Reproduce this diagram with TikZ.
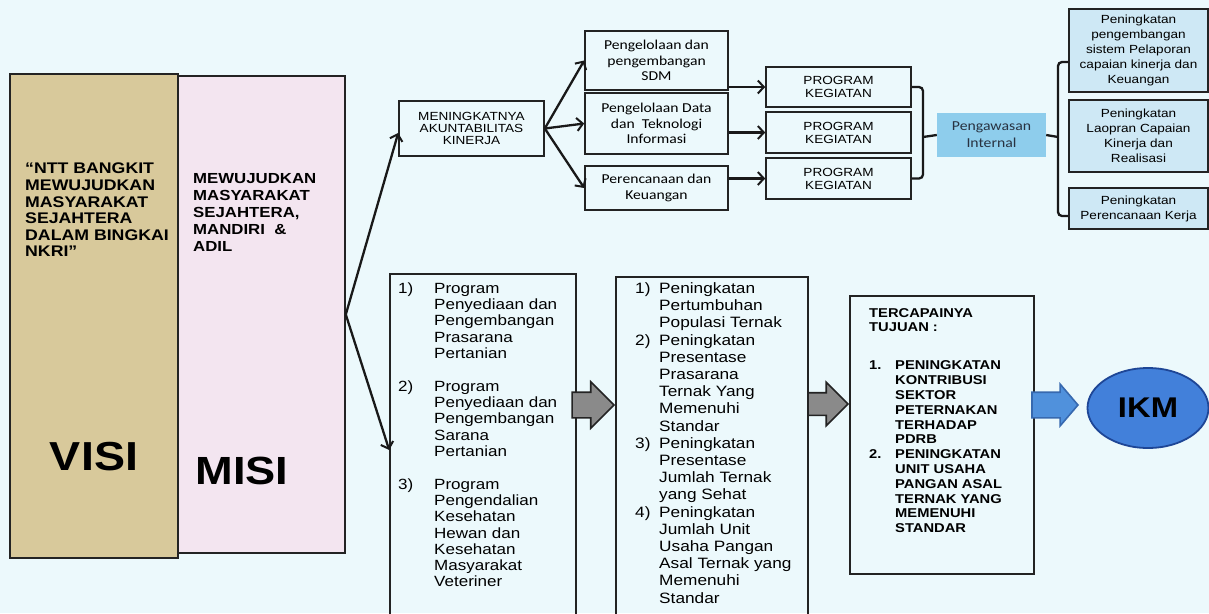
\documentclass[tikz,border=0pt]{standalone}
\usepackage{fontspec}
\setmainfont{Liberation Sans}[FakeStretch=1.15]
\newfontfamily\carl{Carlito}[FakeStretch=1.15]
\usetikzlibrary{arrows.meta,shapes.arrows,shapes.geometric}
\definecolor{bg}{RGB}{236,249,252}
\definecolor{visitan}{RGB}{216,201,155}
\definecolor{lpink}{RGB}{243,229,240}
\definecolor{pengblue}{RGB}{142,205,236}
\definecolor{rblue}{RGB}{206,232,245}
\definecolor{ikmblue}{RGB}{66,128,218}
\definecolor{ikmedge}{RGB}{30,70,150}
\definecolor{arrgray}{RGB}{138,138,138}
\definecolor{barrow}{RGB}{80,145,220}
\definecolor{barrowedge}{RGB}{55,105,175}
\definecolor{edge}{RGB}{35,35,35}
\definecolor{pengtext}{RGB}{40,50,65}
\newcommand{\myfs}[2]{\fontsize{#1}{#2}\selectfont}
\newcommand{\nmA}[1]{\makebox[36pt][l]{#1}}
\newcommand{\indA}{\hspace*{36pt}}
\newcommand{\nmB}[1]{\makebox[24pt][l]{#1}}
\newcommand{\indB}{\hspace*{24pt}}
\newcommand{\nmC}[1]{\makebox[26pt][l]{#1}}
\newcommand{\indC}{\hspace*{26pt}}
\begin{document}
\begin{tikzpicture}[x=1pt,y=-1pt,
  box/.style={draw=edge, line width=1.6pt, inner sep=0pt, align=center},
  txt/.style={anchor=north west, inner sep=0pt, align=left},
  conn/.style={draw=black!90, line width=2.3pt, -{Straight Barb[length=6pt,width=13pt,line width=2pt]}},
  brk/.style={draw=black!90, line width=2.3pt, rounded corners=4pt},
  blockarrow/.style={single arrow, draw=edge, fill=arrgray, line width=1.6pt, inner xsep=0pt, anchor=tip}
]
\fill[bg] (0,0) rectangle (1209,613);
\useasboundingbox (0,0) rectangle (1209,613);
\clip (0,0) rectangle (1209,613);

% VISI / MISI
\node[box, fill=visitan, minimum width=168pt, minimum height=484pt] (visi) at (94,316) {};
\node[box, fill=lpink, minimum width=167pt, minimum height=477pt] (misi) at (261.5,314.5) {};
\node[txt, font=\bfseries\myfs{15.4}{16.6}] (visitxt) at (25,163) {“NTT BANGKIT\\MEWUJUDKAN\\MASYARAKAT\\SEJAHTERA\\DALAM BINGKAI\\NKRI”};
\node[txt, font=\bfseries\myfs{14.6}{17}] (misitxt) at (193,173) {MEWUJUDKAN\\MASYARAKAT\\SEJAHTERA,\\MANDIRI\ \ \&\\ADIL};
\node[inner sep=0pt, font=\bfseries\myfs{40.5}{42}] (visiw) at (94,457) {VISI};
\node[inner sep=0pt, font=\bfseries\myfs{39.3}{42}] (misiw) at (242,471) {MISI};

% upper chain
\node[box, minimum width=145pt, minimum height=55pt, font=\myfs{11.8}{12}] (mening) at (471.5,128.5) {MENINGKATNYA\\AKUNTABILITAS\\KINERJA};
\node[box, minimum width=143pt, minimum height=59pt, font=\carl\myfs{13.6}{15.5}] (sdm) at (656.5,60.5) {Pengelolaan dan\\pengembangan\\SDM};
\node[box, minimum width=143pt, minimum height=61pt, font=\carl\myfs{13.6}{15.5}] (data) at (656.5,123.5) {Pengelolaan Data\\dan\ \ Teknologi\\Informasi};
\node[box, minimum width=143pt, minimum height=44pt, font=\carl\myfs{13.6}{15.5}] (per) at (656.5,188) {Perencanaan dan\\Keuangan};
\node[box, minimum width=145pt, minimum height=40pt, font=\myfs{11.8}{13}] (p1) at (838.5,87) {PROGRAM\\KEGIATAN};
\node[box, minimum width=145pt, minimum height=41pt, font=\myfs{11.8}{13}] (p2) at (838.5,132.5) {PROGRAM\\KEGIATAN};
\node[box, minimum width=145pt, minimum height=41pt, font=\myfs{11.8}{13}] (p3) at (838.5,178.5) {PROGRAM\\KEGIATAN};
\node[fill=pengblue, inner sep=0pt, align=center, minimum width=109pt, minimum height=44pt, text=pengtext, font=\carl\myfs{13.7}{17}] (peng) at (991.5,135) {Pengawasan\\Internal};
\node[box, fill=rblue, minimum width=139pt, minimum height=83pt, font=\myfs{11.8}{15}] (r1) at (1138.5,50.5) {Peningkatan\\pengembangan\\sistem Pelaporan\\capaian kinerja dan\\Keuangan};
\node[box, fill=rblue, minimum width=139pt, minimum height=72pt, font=\myfs{11.8}{15}] (r2) at (1138.5,136) {Peningkatan\\Laopran Capaian\\Kinerja dan\\Realisasi};
\node[box, fill=rblue, minimum width=139pt, minimum height=41pt, font=\myfs{11.8}{15}] (r3) at (1138.5,208.5) {Peningkatan\\Perencanaan Kerja};

% lower chain
\node[box, minimum width=186pt, minimum height=366pt] (b1) at (483,457) {};
\node[txt, font=\myfs{14.8}{16.2}] (b1txt) at (398,282.5) {\nmA{1)}Program\\\indA Penyediaan dan\\\indA Pengembangan\\\indA Prasarana\\\indA Pertanian\\[17pt]\nmA{2)}Program\\\indA Penyediaan dan\\\indA Pengembangan\\\indA Sarana\\\indA Pertanian\\[17pt]\nmA{3)}Program\\\indA Pengendalian\\\indA Kesehatan\\\indA Hewan dan\\\indA Kesehatan\\\indA Masyarakat\\\indA Veteriner};
\node[box, minimum width=192pt, minimum height=364pt] (b2) at (712,459) {};
\node[txt, font=\myfs{15}{17.2}] (b2txt) at (635,282.5) {\nmB{1)}Peningkatan\\\indB Pertumbuhan\\\indB Populasi Ternak\\\nmB{2)}Peningkatan\\\indB Presentase\\\indB Prasarana\\\indB Ternak Yang\\\indB Memenuhi\\\indB Standar\\\nmB{3)}Peningkatan\\\indB Presentase\\\indB Jumlah Ternak\\\indB yang Sehat\\\nmB{4)}Peningkatan\\\indB Jumlah Unit\\\indB Usaha Pangan\\\indB Asal Ternak yang\\\indB Memenuhi\\\indB Standar};
\node[box, minimum width=184pt, minimum height=278pt] (b3) at (942,435) {};
\node[txt, font=\bfseries\myfs{12.8}{14.8}] (b3txt) at (869,308) {TERCAPAINYA\\TUJUAN :\\[23.2pt]\nmC{1.}PENINGKATAN\\\indC KONTRIBUSI\\\indC SEKTOR\\\indC PETERNAKAN\\\indC TERHADAP\\\indC PDRB\\\nmC{2.}PENINGKATAN\\\indC UNIT USAHA\\\indC PANGAN ASAL\\\indC TERNAK YANG\\\indC MEMENUHI\\\indC STANDAR};
\node[ellipse, draw=ikmedge, line width=1.8pt, fill=ikmblue, minimum width=121pt, minimum height=80pt, inner sep=0pt, font=\bfseries\myfs{28.5}{30}] (ikm) at (1148,408) {IKM};

% block arrows
\node[blockarrow, minimum height=42pt, minimum width=45pt, inner ysep=12pt, single arrow head extend=10.5pt] (g1) at (b2.west |- 0,405) {};
\node[blockarrow, minimum height=40pt, minimum width=42pt, inner ysep=10.5pt, single arrow head extend=10.5pt] (g2) at (b3.west |- 0,404) {};
\node[blockarrow, draw=barrowedge, fill=barrow, minimum height=46pt, minimum width=40pt, inner ysep=12pt, single arrow head extend=8pt, single arrow tip angle=99] (g3) at (1079,405) {};

% connectors
\draw[conn] (misi.east) -- ([yshift=-4.5pt]mening.west);
\draw[conn] (misi.east) -- (b1.west |- 0,450);
\draw[conn] (mening.east) -- (sdm.west);
\draw[conn] (mening.east) -- (data.west);
\draw[conn] (mening.east) -- (per.west);
\draw[conn] (sdm.east |- p1.west) -- (p1.west);
\draw[conn] (data.east |- p2.west) -- (p2.west);
\draw[conn] (per.east |- p3.west) -- (p3.west);

\coordinate (bl) at (923,137);
\draw[brk] (p1.east) -| (bl) |- (p3.east);
\draw[brk] (bl) -- (peng.west);
\coordinate (br) at (1058,137);
\draw[brk] (r1.west |- 0,62) -| (br) |- (r3.west |- 0,216);
\draw[brk] (peng.east) -- (br);
\end{tikzpicture}
\end{document}
